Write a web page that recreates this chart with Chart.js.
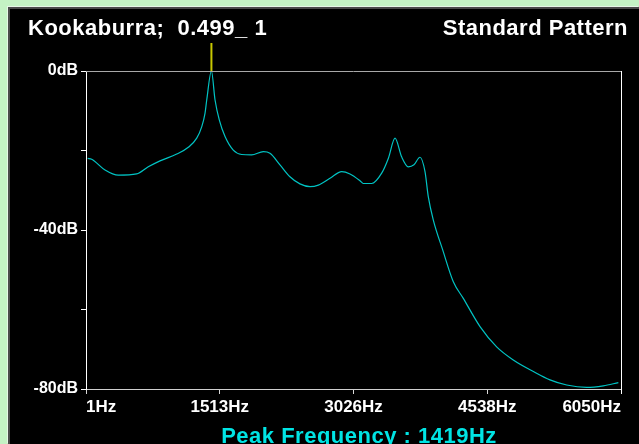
<!DOCTYPE html>
<html>
<head>
<meta charset="utf-8">
<script src="https://cdn.jsdelivr.net/npm/chart.js@4/dist/chart.umd.min.js"></script>
<style>
  html, body { margin: 0; padding: 0; }
  body { width: 639px; height: 444px; background: #c4f2c4; position: relative; overflow: hidden; }
  #panel { position: absolute; left: 8px; top: 7px; right: 0; bottom: 0; background: #000;
           border-left: 2px solid #4a4a4a; border-top: 2px solid #4a4a4a; box-shadow: -1px -1px 0 #e6f6e6; }
  #wrap { position: absolute; left: 0; top: 0; width: 639px; height: 444px; }
</style>
</head>
<body>
<div id="panel"></div>
<div id="wrap"><canvas id="spectrum" width="639" height="444"></canvas></div>
<script>
let titleLeft = 'Kookaburra;  0.499_ 1'
let titleRight = 'Standard Pattern'
let peakFreq = 1419

// frequency (Hz) and level (dB)
let freqs = [20, 65, 216, 366, 574, 705, 838, 1027, 1158, 1253, 1310, 1347, 1366, 1419,
    1460, 1508, 1573, 1666, 1761, 1874, 2006, 2081, 2194, 2307, 2420, 2534, 2628, 2760,
    2892, 2986, 3099, 3136, 3231, 3344, 3419, 3495, 3570, 3645, 3709, 3777, 3834, 3871,
    3928, 4034, 4154, 4267, 4456, 4644, 4832, 5059, 5247, 5436, 5662, 5850, 6020]
let levels = [-22.0, -22.2, -24.9, -26.2, -25.9, -24.1, -22.6, -20.9, -19.2, -16.9, -14.0, -10.6, -7.3, 0,
    -7.3, -12.3, -16.5, -19.9, -21.0, -21.1, -20.3, -20.7, -23.6, -26.6, -28.4, -29.1, -28.7, -27.0,
    -25.3, -25.9, -27.6, -28.3, -28.3, -25.7, -22.0, -16.9, -21.6, -24.1, -23.6, -21.7, -25.3, -31.6,
    -37.5, -45.0, -53.0, -57.2, -64.3, -69.4, -72.7, -75.6, -77.7, -79.0, -79.6, -79.2, -78.4]

let xTicks = [1, 1513, 3026, 4538, 6050]
let yTicks = [0, -20, -40, -60, -80]
let yLabeled = [0, -40, -80]

const font = 'Liberation Sans, Arial, sans-serif'

const framePlugin = {
    id: 'frame',
    afterDraw(chart) {
        const ctx = chart.ctx
        const a = chart.chartArea
        ctx.save()
        // top and right edges of the plot box
        ctx.lineWidth = 1
        ctx.strokeStyle = '#a8a8a8'
        ctx.beginPath()
        ctx.moveTo(a.left, a.top + 0.5)
        ctx.lineTo(a.right, a.top + 0.5)
        ctx.stroke()
        ctx.strokeStyle = '#ffffff'
        ctx.beginPath()
        ctx.moveTo(a.right + 0.5, a.top)
        ctx.lineTo(a.right + 0.5, a.bottom + 5)
        ctx.stroke()

        // peak marker
        let px = chart.scales.x.getPixelForValue(peakFreq)
        ctx.strokeStyle = '#c8c800'
        ctx.lineWidth = 2
        ctx.beginPath()
        ctx.moveTo(px, a.top - 28)
        ctx.lineTo(px, a.top)
        ctx.stroke()

        // texts
        ctx.letterSpacing = '0.5px'
        ctx.fillStyle = '#ffffff'
        ctx.font = 'bold 22px ' + font
        ctx.textBaseline = 'alphabetic'
        ctx.textAlign = 'left'
        ctx.fillText(titleLeft, 28, 35)
        ctx.textAlign = 'right'
        ctx.fillText(titleRight, 628, 35)
        ctx.fillStyle = '#00e4e4'
        ctx.textAlign = 'center'
        ctx.fillText('Peak Frequency : ' + peakFreq + 'Hz', 359, 443)
        ctx.restore()
    }
}

new Chart(document.getElementById('spectrum'), {
    type: 'line',
    data: {
        datasets: [{
            data: freqs.map((f, i) => ({ x: f, y: levels[i] })),
            borderColor: '#00c4c4',
            borderWidth: 1.2,
            pointRadius: 0,
            cubicInterpolationMode: 'monotone',
            clip: 3
        }]
    },
    options: {
        responsive: false,
        animation: false,
        events: [],
        layout: { padding: { left: 0, right: 18, top: 71, bottom: 0 } },
        plugins: { legend: { display: false }, tooltip: { enabled: false } },
        scales: {
            x: {
                type: 'linear',
                min: 1,
                max: 6050,
                afterBuildTicks: (scale) => { scale.ticks = xTicks.map(v => ({ value: v })) },
                afterFit: (scale) => { scale.height = 55 },
                grid: { drawOnChartArea: false, color: '#d8d8d8', tickLength: 5 },
                border: { color: '#d0d0d0', width: 1 },
                ticks: {
                    color: '#ffffff',
                    font: { family: font, weight: 'bold', size: 17 },
                    padding: 3,
                    align: 'inner',
                    maxRotation: 0,
                    autoSkip: false,
                    callback: (v) => v + 'Hz'
                }
            },
            y: {
                min: -80,
                max: 0,
                afterBuildTicks: (scale) => { scale.ticks = yTicks.map(v => ({ value: v })) },
                afterFit: (scale) => { scale.width = 86 },
                grid: { drawOnChartArea: false, color: '#ffffff', tickLength: 5 },
                border: { color: '#ffffff', width: 1 },
                ticks: {
                    color: '#ffffff',
                    font: { family: font, weight: 'bold', size: 16 },
                    padding: 3,
                    autoSkip: false,
                    callback: (v) => yLabeled.includes(v) ? v + 'dB' : ''
                }
            }
        }
    },
    plugins: [framePlugin]
})
</script>
</body>
</html>
